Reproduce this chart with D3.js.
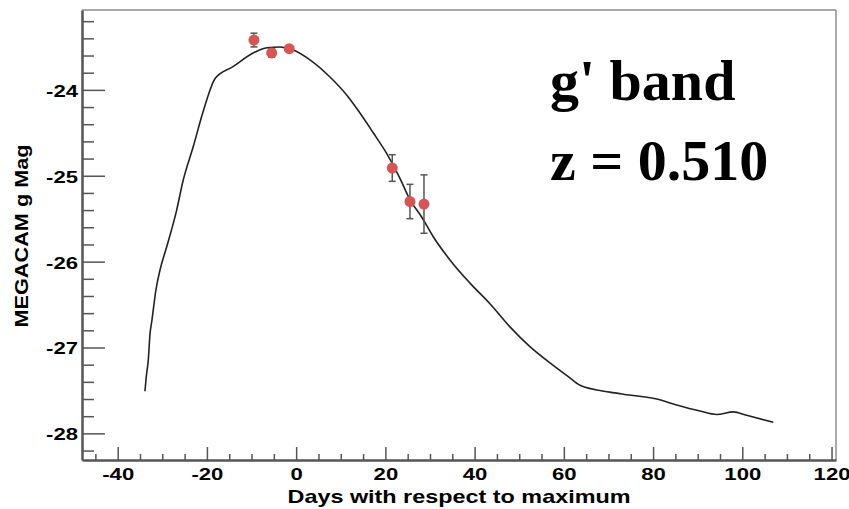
<!DOCTYPE html>
<html>
<head>
<meta charset="utf-8">
<script src="https://cdn.jsdelivr.net/npm/d3@7"></script>
<style>
  html, body { margin: 0; padding: 0; background: #fff; }
  svg { display: block; }
</style>
</head>
<body>
<svg id="chart" width="849" height="509"></svg>
<script>
// Template light curve: days relative to maximum and MEGACAM g magnitude
const curveDays = [-33.89, -33.55, -33.15, -32.77, -32.32, -31.43, -30.53, -29.03, -26.78, -25.31,
                   -23.06, -21.18, -20.06, -18.20, -14.17, -9.23, -6.54, -3.63, -0.94, 3.09,
                   7.58, 11.32, 14.30, 17.28, 20.28, 23.27, 25.51, 28.13, 30.73, 34.47,
                   38.96, 43.44, 47.92, 52.40, 56.89, 60.99, 63.61, 70.34, 74.08, 80.80,
                   85.29, 90.51, 94.25, 97.97, 100.97, 106.94];
const curveMags = [-27.51, -27.32, -27.15, -26.85, -26.68, -26.33, -26.10, -25.83, -25.40, -25.05,
                   -24.66, -24.31, -24.12, -23.87, -23.73, -23.56, -23.51, -23.50, -23.53, -23.65,
                   -23.85, -24.06, -24.27, -24.50, -24.74, -25.03, -25.28, -25.48, -25.71, -25.98,
                   -26.25, -26.49, -26.76, -26.99, -27.18, -27.34, -27.44, -27.52, -27.55, -27.60,
                   -27.67, -27.74, -27.78, -27.75, -27.79, -27.87];

// Observed photometry with 1-sigma errors
const obsDays = [-9.46, -5.49, -1.55, 21.54, 25.51, 28.65];
const obsMags = [-23.42, -23.57, -23.52, -24.91, -25.30, -25.33];
const obsErrs = [0.08, 0.05, 0.02, 0.155, 0.20, 0.34];

// Axis ticks
const xMajorTicks = [-40, -20, 0, 20, 40, 60, 80, 100, 120];
const xMinorTicks = d3.range(-45, 121, 5).filter(v => v % 20 !== 0);
const yMajorTicks = [-24, -25, -26, -27, -28];
const yMinorTicks = d3.range(-23.2, -28.3, -0.2).map(v => +v.toFixed(1)).filter(v => !Number.isInteger(v));

const xTitle = "Days with respect to maximum";
const yTitle = "MEGACAM g Mag";
const bandLabel = "g' band";
const redshiftLabel = "z = 0.510";

const plot = { left: 82, top: 10, right: 836, bottom: 460 };
const axisColor = "#555";
const frameColor = "#8c8c8c";
const pointColor = "#d65555";

const svg = d3.select("#chart");

const x = d3.scaleLinear().domain([-48, 121]).range([plot.left, plot.right]);
const y = d3.scaleLinear().domain([-23.07, -28.31]).range([plot.top, plot.bottom]);

// Light frame on top and right
svg.append("line")
  .attr("x1", plot.left).attr("x2", plot.right)
  .attr("y1", plot.top).attr("y2", plot.top)
  .attr("stroke", frameColor).attr("stroke-width", 1.5);
svg.append("line")
  .attr("x1", plot.right).attr("x2", plot.right)
  .attr("y1", plot.top).attr("y2", plot.bottom)
  .attr("stroke", frameColor).attr("stroke-width", 1.5);

const tickFont = "'Liberation Sans', Arial, Helvetica, sans-serif";

function styleAxis(g, width) {
  g.select(".domain").attr("stroke", axisColor).attr("stroke-width", width);
  g.selectAll(".tick line").attr("stroke", axisColor).attr("stroke-width", 1.5);
  g.selectAll(".tick text")
    .attr("fill", "#000")
    .style("font-family", tickFont)
    .style("font-weight", "bold")
    .style("font-size", "17px");
}

// Minor ticks first, then labelled major ticks
const gxMinor = svg.append("g").attr("transform", `translate(0,${plot.bottom})`)
  .call(d3.axisBottom(x).tickValues(xMinorTicks).tickSize(-6).tickSizeOuter(0).tickFormat(""));
styleAxis(gxMinor, 0);
const gyMinor = svg.append("g").attr("transform", `translate(${plot.left},0)`)
  .call(d3.axisLeft(y).tickValues(yMinorTicks).tickSize(-12).tickSizeOuter(0).tickFormat(""));
styleAxis(gyMinor, 0);

const gx = svg.append("g").attr("transform", `translate(0,${plot.bottom})`)
  .call(d3.axisBottom(x).tickValues(xMajorTicks).tickSize(-13).tickSizeOuter(0).tickPadding(8)
    .tickFormat(d => String(d)));
styleAxis(gx, 2.5);
const gy = svg.append("g").attr("transform", `translate(${plot.left},0)`)
  .call(d3.axisLeft(y).tickValues(yMajorTicks).tickSize(-23).tickSizeOuter(0).tickPadding(4)
    .tickFormat(d => String(d)));
styleAxis(gy, 2.5);
gy.selectAll(".tick text").attr("dy", "0.38em");

// The labels use a wide, stretched sans face
svg.selectAll(".tick text").each(function () {
  const w = this.getComputedTextLength();
  if (w > 0) d3.select(this).attr("textLength", w * 1.3).attr("lengthAdjust", "spacingAndGlyphs");
});

// Axis titles
svg.append("text")
  .attr("x", (plot.left + plot.right) / 2).attr("y", 503)
  .attr("text-anchor", "middle")
  .attr("textLength", 343).attr("lengthAdjust", "spacingAndGlyphs")
  .style("font-family", tickFont).style("font-weight", "bold").style("font-size", "19px")
  .text(xTitle);
svg.append("text")
  .attr("transform", `translate(28,${(plot.top + plot.bottom) / 2 + 1}) rotate(-90)`)
  .attr("text-anchor", "middle")
  .attr("textLength", 183).attr("lengthAdjust", "spacingAndGlyphs")
  .style("font-family", tickFont).style("font-weight", "bold").style("font-size", "19px")
  .text(yTitle);

// Template curve
const line = d3.line().x(d => x(d[0])).y(d => y(d[1])).curve(d3.curveMonotoneX);
svg.append("path")
  .datum(d3.zip(curveDays, curveMags))
  .attr("d", line)
  .attr("fill", "none")
  .attr("stroke", "#222")
  .attr("stroke-width", 1.6)
  .attr("stroke-linejoin", "round");

// Error bars
const obs = d3.zip(obsDays, obsMags, obsErrs);
const eb = svg.append("g").attr("stroke", "#555").attr("stroke-width", 1.5);
eb.selectAll("line.bar").data(obs).join("line").attr("class", "bar")
  .attr("x1", d => x(d[0])).attr("x2", d => x(d[0]))
  .attr("y1", d => y(d[1] + d[2])).attr("y2", d => y(d[1] - d[2]));
eb.selectAll("line.capTop").data(obs).join("line").attr("class", "capTop")
  .attr("x1", d => x(d[0]) - 3.5).attr("x2", d => x(d[0]) + 3.5)
  .attr("y1", d => y(d[1] + d[2])).attr("y2", d => y(d[1] + d[2]));
eb.selectAll("line.capBot").data(obs).join("line").attr("class", "capBot")
  .attr("x1", d => x(d[0]) - 3.5).attr("x2", d => x(d[0]) + 3.5)
  .attr("y1", d => y(d[1] - d[2])).attr("y2", d => y(d[1] - d[2]));

// Data points
svg.append("g").selectAll("circle").data(obs).join("circle")
  .attr("cx", d => x(d[0])).attr("cy", d => y(d[1]))
  .attr("r", 5.5)
  .attr("fill", pointColor);

// Band and redshift annotation
const serif = "'Liberation Serif', 'Times New Roman', Times, serif";
svg.append("text")
  .attr("x", 550).attr("y", 100)
  .style("font-family", serif).style("font-weight", "bold").style("font-size", "58px")
  .text(bandLabel);
svg.append("text")
  .attr("x", 550).attr("y", 180)
  .style("font-family", serif).style("font-weight", "bold").style("font-size", "58px")
  .text(redshiftLabel);
</script>
</body>
</html>
